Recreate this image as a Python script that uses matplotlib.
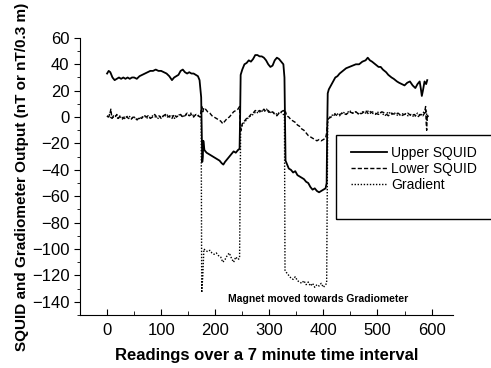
import matplotlib.pyplot as plt
from matplotlib.patches import Rectangle
from matplotlib.ticker import MultipleLocator

plt.rcParams['font.family'] = ['Liberation Sans', 'DejaVu Sans']

# readings
upper_x = [0, 3, 6, 10, 14, 18, 22, 26, 30, 34, 38, 42, 46, 50, 55, 60, 65, 70, 75, 80,
           85, 90, 95, 100, 105, 110, 115, 120, 124, 128, 132, 136, 140, 144, 148, 152, 156, 160, 164, 168,
           171, 174, 175, 176, 177, 178, 180, 184, 188, 192, 196, 200, 204, 208, 212, 215, 218, 222, 226, 230,
           234, 238, 242, 245, 246, 247, 250, 254, 258, 262, 266, 270, 274, 278, 282, 286, 290, 294, 298, 302,
           306, 310, 314, 318, 322, 326, 328, 329, 330, 332, 336, 340, 344, 348, 352, 356, 360, 364, 368, 372,
           376, 380, 384, 388, 392, 396, 400, 404, 406, 407, 408, 410, 414, 418, 422, 426, 430, 436, 442, 448,
           454, 460, 466, 472, 478, 482, 486, 490, 496, 502, 506, 510, 516, 520, 526, 530, 536, 540, 545, 550,
           555, 560, 565, 570, 574, 578, 580, 582, 584, 587, 590, 592]
upper_y = [33, 35, 34, 30, 28, 29, 30, 29, 30, 29, 30, 29, 30, 30, 29, 31, 32, 33, 34, 35,
           35, 36, 35, 35, 34, 33, 31, 28, 30, 31, 32, 35, 36, 34, 33, 34, 33, 33, 32, 31,
           28, 15, -10, -34, -30, -18, -25, -27, -28, -29, -30, -31, -32, -33, -35, -36, -34, -32, -30, -28,
           -26, -27, -25, -24, 0, 32, 36, 40, 41, 43, 42, 44, 47, 47, 46, 46, 45, 43, 40, 38,
           39, 43, 45, 44, 42, 40, 30, 0, -33, -35, -39, -40, -42, -41, -44, -45, -46, -47, -49, -50,
           -53, -55, -54, -56, -57, -56, -55, -54, -50, -10, 18, 21, 24, 27, 30, 31, 33, 35, 37, 38,
           39, 40, 40, 42, 43, 45, 43, 42, 40, 38, 38, 36, 34, 32, 30, 29, 27, 26, 25, 24,
           26, 27, 24, 22, 25, 27, 22, 16, 20, 27, 25, 28]

lower_x = [0, 3, 5, 7, 9, 12, 15, 18, 21, 24, 27, 30, 33, 36, 40, 44, 48, 52, 56, 60,
           64, 68, 72, 76, 80, 84, 88, 92, 96, 100, 104, 108, 112, 116, 120, 124, 128, 132, 136, 140,
           144, 148, 152, 156, 160, 164, 168, 172, 175, 177, 179, 182, 186, 190, 194, 198, 202, 206, 210, 214,
           218, 222, 226, 230, 234, 238, 242, 245, 246, 248, 250, 254, 258, 262, 266, 270, 274, 278, 282, 286,
           290, 294, 298, 302, 306, 310, 314, 318, 322, 326, 328, 330, 332, 336, 340, 344, 348, 352, 356, 360,
           364, 368, 372, 376, 380, 384, 388, 392, 396, 400, 404, 406, 408, 410, 414, 418, 422, 426, 430, 436,
           442, 448, 454, 460, 466, 472, 478, 484, 490, 496, 502, 508, 514, 520, 526, 532, 538, 544, 550, 556,
           562, 568, 574, 580, 584, 587, 589, 590, 591, 592, 594]
lower_y = [1, 0, 2, 6, -1, 1, 0, 2, -1, 1, 0, -1, 1, 0, -1, -2, 0, -1, -2, 0,
           -1, 1, 0, 1, -1, 0, 2, 0, 1, -1, 1, 2, 0, 1, -1, 2, 0, 1, 2, 0,
           1, 3, 1, 2, 0, 2, 1, 0, 8, 4, 7, 6, 4, 3, 1, 0, -1, -2, -3, -5,
           -3, -1, 0, 2, 4, 5, 6, 8, -6, -10, -5, -3, -1, 0, 2, 3, 5, 4, 5, 4,
           6, 4, 5, 3, 4, 2, 1, 3, 4, 5, 3, 4, 1, 0, -2, -3, -4, -6, -7, -9,
           -10, -12, -14, -15, -16, -17, -18, -17, -18, -17, -16, -12, -2, -1, 0, 1, 2, 1, 2, 3,
           2, 4, 3, 4, 2, 3, 5, 2, 4, 3, 2, 4, 3, 1, 3, 2, 3, 1, 2, 3,
           1, 2, 0, 2, 1, 3, 8, -4, -10, 2, 0]

grad_x = [0, 4, 8, 12, 16, 20, 25, 30, 35, 40, 45, 50, 55, 60, 65, 70, 75, 80, 85, 90,
          95, 100, 105, 110, 115, 120, 125, 130, 135, 140, 145, 150, 155, 160, 165, 170, 174, 175, 177, 179,
          182, 186, 190, 194, 198, 202, 206, 210, 214, 218, 222, 226, 230, 234, 238, 242, 245, 246, 247, 250,
          254, 258, 262, 266, 270, 275, 280, 285, 290, 295, 300, 305, 310, 315, 320, 326, 328, 329, 332, 336,
          340, 344, 348, 352, 356, 360, 364, 368, 372, 376, 380, 384, 388, 392, 396, 400, 404, 406, 407, 408,
          412, 418, 424, 430, 436, 442, 448, 454, 460, 466, 472, 478, 484, 490, 496, 502, 508, 514, 520, 526,
          532, 538, 544, 550, 556, 562, 568, 574, 580, 586, 590, 592]
grad_y = [0, 2, -1, 0, 1, -1, 0, -2, 0, 1, -1, 0, -2, -1, 0, 1, -1, 0, 1, 0,
          -1, 1, 0, 2, 0, 1, -1, 1, 2, 0, 2, 1, 3, 1, 2, 1, 0, -133, -120, -100,
          -101, -102, -101, -103, -104, -103, -105, -106, -110, -108, -105, -103, -107, -110, -106, -108, -107, -60, -8, -6,
          -4, -2, 0, 1, 2, 4, 3, 5, 4, 6, 3, 4, 3, 2, 4, 2, 0, -116, -118, -120,
          -122, -123, -121, -124, -125, -126, -124, -127, -125, -128, -126, -129, -127, -128, -126, -129, -127, -126, -60, -2,
          0, 2, 3, 1, 4, 2, 5, 3, 4, 2, 4, 3, 5, 3, 2, 4, 3, 1, 4, 2,
          3, 1, 2, 3, 1, 2, 0, 3, 1, 4, 6, -3]

x_ticks = [0, 100, 200, 300, 400, 500, 600]
y_ticks = [-140, -120, -100, -80, -60, -40, -20, 0, 20, 40, 60]

fig = plt.figure(figsize=(4.91, 3.68), dpi=100)
ax = fig.add_axes([0.163, 0.144, 0.76, 0.753])

ax.plot(upper_x, upper_y, color='black', lw=1.3, ls='-', label='Upper SQUID')
ax.plot(lower_x, lower_y, color='black', lw=1.0, ls=(0, (3, 1.5)), label='Lower SQUID')
ax.plot(grad_x, grad_y, color='black', lw=1.0, ls=(0, (1, 1.2)), label='Gradient')

ax.set_xlim(-50, 640)
ax.set_ylim(-150, 60)
ax.set_xticks(x_ticks)
ax.set_yticks(y_ticks)
ax.xaxis.set_minor_locator(MultipleLocator(50))
ax.yaxis.set_minor_locator(MultipleLocator(10))
ax.tick_params(axis='x', which='both', direction='in', labelsize=12, pad=6)
ax.tick_params(axis='x', which='major', length=4)
ax.tick_params(axis='x', which='minor', length=3)
ax.tick_params(axis='y', which='both', direction='out', labelsize=12)
ax.tick_params(axis='y', which='major', length=4)
ax.tick_params(axis='y', which='minor', length=2.5)

for s in ['top', 'right']:
    ax.spines[s].set_visible(False)

ax.set_xlabel('Readings over a 7 minute time interval', fontsize=12, fontweight='bold', labelpad=7)
ax.set_ylabel('SQUID and Gradiometer Output (nT or nT/0.3 m)', fontsize=11, fontweight='bold', labelpad=2)

ax.text(390, -138, 'Magnet moved towards Gradiometer', fontsize=7.5, fontweight='bold',
        ha='center', va='center')

# legend box runs off the right edge in the scan
fig.patches.append(Rectangle((336 / 491, 1 - 219 / 368), 0.4, (219 - 135) / 368,
                             transform=fig.transFigure, fill=False, ec='black', lw=1))
fig.legend(loc='upper left', bbox_to_anchor=(345 / 491, 1 - 140 / 368), frameon=False,
           fontsize=10, handlelength=2.6, handletextpad=0.3, labelspacing=0.15, borderaxespad=0)

fig.savefig('out.png', dpi=100)
